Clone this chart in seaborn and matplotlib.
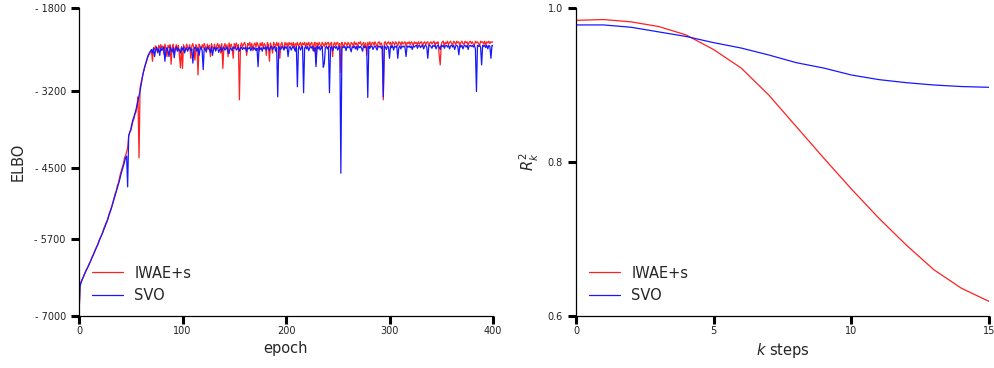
import numpy as np
import pandas as pd
import matplotlib
matplotlib.use("Agg")
import matplotlib.pyplot as plt
import seaborn as sns

# ---------------- data ----------------
epochs = list(range(0, 401))

elbo_iwae = [
    -7000, -6470, -6420, -6380, -6350, -6300, -6260, -6220, -6200, -6150, -6110, -6080, -6030, -5990, -5960, -5910, -5870, -5830, -5800, -5740,
    -5700, -5660, -5630, -5580, -5520, -5480, -5430, -5400, -5340, -5280, -5230, -5180, -5130, -5060, -5000, -4930, -4890, -4800, -4760, -4680,
    -4600, -4540, -4480, -4420, -4330, -4290, -4230, -4160, -3960, -3900, -3870, -3800, -3720, -3680, -3600, -3560, -3470, -3300, -4330, -3150,
    -3060, -2980, -2900, -2830, -2770, -2720, -2660, -2610, -2580, -2540, -2520, -2700, -2470, -2500, -2440, -2490, -2560, -2430, -2480, -2420,
    -2470, -2440, -2580, -2410, -2480, -2620, -2430, -2470, -2420, -2750, -2460, -2410, -2560, -2480, -2420, -2500, -2430, -2600, -2810, -2450,
    -2820, -2420, -2470, -2520, -2410, -2460, -2490, -2420, -2650, -2440, -2400, -2480, -2680, -2420, -2460, -2930, -2410, -2450, -2500, -2420,
    -2470, -2400, -2450, -2550, -2410, -2480, -2430, -2620, -2400, -2460, -2500, -2410, -2530, -2440, -2400, -2470, -2420, -2560, -2400, -2820,
    -2450, -2400, -2480, -2420, -2620, -2390, -2460, -2410, -2470, -2650, -2400, -2450, -2390, -2480, -2420, -3350, -2440, -2390, -2460, -2410,
    -2380, -2440, -2600, -2400, -2430, -2380, -2470, -2400, -2520, -2420, -2390, -2460, -2380, -2430, -2530, -2390, -2440, -2380, -2470, -2400,
    -2430, -2600, -2380, -2420, -2700, -2390, -2450, -2560, -2380, -2410, -2460, -2380, -2440, -2390, -2650, -2420, -2380, -2450, -2500, -2380,
    -2430, -2390, -2460, -2380, -2420, -2390, -2450, -2380, -2480, -2400, -2430, -2380, -2450, -2410, -2380, -2460, -2390, -2420, -2380, -2470,
    -2390, -2430, -2380, -2450, -2400, -2380, -2520, -2410, -2380, -2730, -2390, -2440, -2380, -2420, -2460, -2380, -2410, -2450, -2380, -2430,
    -2390, -2380, -2460, -2400, -2380, -2620, -2410, -2380, -2440, -2390, -2380, -2460, -2400, -2890, -2380, -2420, -2450, -2380, -2400, -2440,
    -2380, -2410, -2460, -2380, -2400, -2440, -2370, -2420, -2390, -2450, -2380, -2400, -2370, -2440, -2410, -2380, -2460, -2390, -2600, -2380,
    -2420, -2370, -2450, -2390, -2380, -2430, -2370, -2410, -2460, -2380, -2370, -2420, -2390, -2440, -3350, -2380, -2370, -2430, -2390, -2370,
    -2410, -2380, -2450, -2370, -2390, -2420, -2370, -2400, -2440, -2370, -2380, -2430, -2370, -2410, -2390, -2370, -2450, -2380, -2400, -2370,
    -2420, -2370, -2390, -2440, -2370, -2400, -2380, -2430, -2370, -2410, -2380, -2370, -2450, -2390, -2370, -2420, -2380, -2370, -2440, -2390,
    -2370, -2410, -2380, -2360, -2430, -2380, -2400, -2370, -2600, -2760, -2420, -2370, -2360, -2440, -2380, -2400, -2360, -2420, -2380, -2360,
    -2400, -2430, -2360, -2380, -2420, -2360, -2390, -2370, -2440, -2380, -2360, -2400, -2420, -2360, -2390, -2370, -2430, -2380, -2360, -2400,
    -2370, -2410, -2430, -2360, -2390, -2370, -2400, -2440, -2360, -2380, -2370, -2410, -2360, -2430, -2370, -2390, -2360, -2400, -2370, -2380,
    -2370,
]

elbo_svo = [
    -7000, -6500, -6440, -6390, -6350, -6310, -6270, -6230, -6190, -6160, -6120, -6080, -6040, -6000, -5960, -5920, -5880, -5840, -5800, -5760,
    -5710, -5670, -5630, -5590, -5540, -5500, -5450, -5410, -5360, -5300, -5250, -5200, -5140, -5080, -5020, -4960, -4900, -4840, -4780, -4720,
    -4650, -4580, -4520, -4460, -4400, -4330, -4300, -4820, -3960, -3900, -3850, -3760, -3690, -3640, -3580, -3520, -3440, -3360, -3280, -3200,
    -3100, -3000, -2900, -2830, -2760, -2700, -2640, -2590, -2560, -2530, -2500, -2560, -2480, -2620, -2510, -2460, -2540, -2490, -2600, -2470,
    -2520, -2480, -2460, -2700, -2510, -2470, -2530, -2620, -2460, -2500, -2540, -2470, -2640, -2500, -2460, -2530, -2480, -2510, -2560, -2470,
    -2510, -2460, -2560, -2500, -2470, -2530, -2480, -2460, -2520, -2490, -2730, -2500, -2460, -2480, -2530, -2470, -2600, -2490, -2460, -2520,
    -2840, -2470, -2500, -2530, -2460, -2480, -2510, -2550, -2460, -2600, -2490, -2460, -2520, -2480, -2470, -2550, -2500, -2460, -2530, -2480,
    -2460, -2510, -2490, -2460, -2530, -2570, -2470, -2490, -2520, -2460, -2480, -2460, -2510, -2490, -2460, -2530, -2480, -2460, -2500, -2470,
    -2490, -2460, -2540, -2470, -2490, -2460, -2520, -2480, -2460, -2500, -2470, -2520, -2480, -2790, -2460, -2500, -2470, -2530, -2460, -2490,
    -2460, -2510, -2450, -2480, -2520, -2460, -2450, -2500, -2470, -2450, -2530, -2470, -3300, -2450, -2490, -2500, -2450, -2470, -2510, -2450,
    -2480, -2450, -2620, -2470, -2450, -2510, -2470, -2450, -2490, -2530, -2450, -3130, -2480, -2450, -2510, -2470, -2450, -3230, -2480, -2450,
    -2490, -2450, -2520, -2470, -2450, -2480, -2450, -2530, -2470, -2790, -2450, -2490, -2450, -2510, -2470, -2450, -2800, -2740, -2470, -2450,
    -2490, -2450, -3230, -2470, -2450, -2520, -2470, -2450, -2480, -2450, -2510, -2470, -2450, -4590, -2480, -2450, -2470, -2450, -2520, -2450,
    -2470, -2450, -2480, -2540, -2450, -2470, -2440, -2490, -2450, -2510, -2440, -2470, -2450, -2480, -2530, -2440, -2470, -2450, -2480, -3310,
    -2440, -2480, -2450, -2440, -2500, -2460, -2440, -2470, -2510, -2440, -2460, -2440, -2480, -2450, -3300, -2440, -2460, -2500, -2440, -2460,
    -2650, -2440, -2470, -2440, -2510, -2440, -2460, -2440, -2650, -2470, -2440, -2490, -2440, -2460, -2440, -2470, -2620, -2440, -2460, -2440,
    -2470, -2440, -2500, -2440, -2460, -2440, -2430, -2480, -2440, -2430, -2470, -2440, -2430, -2490, -2440, -2430, -2460, -2650, -2440, -2430,
    -2450, -2480, -2430, -2450, -2430, -2490, -2440, -2430, -2460, -2500, -2430, -2450, -2430, -2480, -2440, -2430, -2460, -2430, -2490, -2440,
    -2430, -2460, -2430, -2500, -2440, -2430, -2450, -2590, -2430, -2460, -2430, -2490, -2440, -2430, -2460, -2430, -2500, -2440, -2430, -2450,
    -2430, -2460, -2430, -2490, -3210, -2430, -2450, -2430, -2460, -2760, -2430, -2450, -2430, -2470, -2430, -2490, -2430, -2450, -2650, -2430,
    -2440,
]

k_steps = list(range(0, 16))
r2_iwae = [0.984, 0.985, 0.982, 0.976, 0.965, 0.946, 0.922, 0.887, 0.846, 0.805,
           0.765, 0.727, 0.692, 0.660, 0.636, 0.619]
r2_svo = [0.978, 0.978, 0.975, 0.969, 0.963, 0.955, 0.948, 0.939, 0.929, 0.922,
          0.913, 0.907, 0.903, 0.900, 0.898, 0.897]

series_names = ["IWAE+s", "SVO"]
left_yticks = [-7000, -5700, -4500, -3200, -1800]
left_xticks = [0, 100, 200, 300, 400]
right_yticks = [0.6, 0.8, 1.0]
right_xticks = [0, 5, 10, 15]

assert len(elbo_iwae) == len(epochs) and len(elbo_svo) == len(epochs)

df_left = pd.DataFrame({
    "epoch": epochs * 2,
    "value": elbo_iwae + elbo_svo,
    "method": [series_names[0]] * len(epochs) + [series_names[1]] * len(epochs),
})
df_right = pd.DataFrame({
    "k": k_steps * 2,
    "value": r2_iwae + r2_svo,
    "method": [series_names[0]] * len(k_steps) + [series_names[1]] * len(k_steps),
})

# ---------------- style ----------------
sns.set_style("ticks")
plt.rcParams["font.family"] = ["DejaVu Sans"]
palette = {"IWAE+s": "#ff2020", "SVO": "#1818ff"}

fig = plt.figure(figsize=(9.95, 3.68), dpi=100)
ax1 = fig.add_axes([79 / 995, 52 / 368, 414 / 995, 308 / 368])
ax2 = fig.add_axes([576 / 995, 52 / 368, 413 / 995, 308 / 368])

sns.lineplot(data=df_left, x="epoch", y="value", hue="method", hue_order=series_names,
             palette=palette, estimator=None, linewidth=0.9, ax=ax1)
sns.lineplot(data=df_right, x="k", y="value", hue="method", hue_order=series_names,
             palette=palette, estimator=None, linewidth=0.9, ax=ax2)

def style_axis(ax):
    for side in ["top", "right"]:
        ax.spines[side].set_visible(False)
    for side in ["left", "bottom"]:
        ax.spines[side].set_color("black")
        ax.spines[side].set_linewidth(0.9)
    ax.tick_params(axis="both", which="major", direction="out", length=5.5, width=2.2,
                   color="black", labelsize=7, labelcolor="#222222", pad=2)
    ax.tick_params(axis="y", pad=4)
    ax.legend(loc="lower left", frameon=False, fontsize=10.5, handlelength=2.1,
              borderaxespad=0.5, labelspacing=0.5)

ax1.set_xlim(0, 400)
ax1.set_ylim(-7000, -1800)
ax1.set_xticks(left_xticks)
ax1.set_yticks(left_yticks)
ax1.set_yticklabels([f"- {abs(v)}" for v in left_yticks])
ax1.set_xlabel("epoch", fontsize=10.5, labelpad=3)
ax1.set_ylabel("ELBO", fontsize=10.5, labelpad=6)
style_axis(ax1)

ax2.set_xlim(0, 15)
ax2.set_ylim(0.6, 1.0)
ax2.set_xticks(right_xticks)
ax2.set_yticks(right_yticks)
ax2.set_yticklabels([f"{v:.1f}" for v in right_yticks])
ax2.set_xlabel("$k$ steps", fontsize=10.5, labelpad=3)
ax2.set_ylabel("$R_k^2$", fontsize=10.5, labelpad=5)
style_axis(ax2)

fig.savefig("out.png", dpi=100)
